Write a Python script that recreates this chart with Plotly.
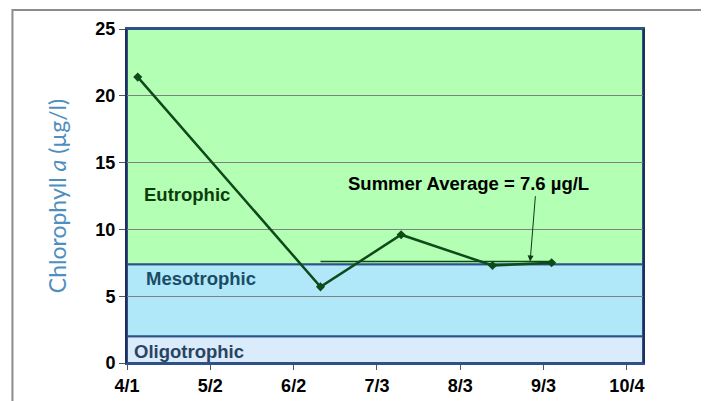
import plotly.graph_objects as go

dates = ["2009-04-05", "2009-06-12", "2009-07-12", "2009-08-15", "2009-09-06"]
chl = [21.4, 5.7, 9.6, 7.3, 7.5]
avg_dates = ["2009-06-12", "2009-09-06"]
avg_val = [7.6, 7.6]
tick_dates = ["2009-04-01", "2009-05-02", "2009-06-02", "2009-07-03", "2009-08-03", "2009-09-03", "2009-10-04"]
tick_text = ["4/1", "5/2", "6/2", "7/3", "8/3", "9/3", "10/4"]
y_ticks = [0, 5, 10, 15, 20, 25]
bands = [(0, 2, "#DAEBFC"), (2, 7.4, "#B0E8FA"), (7.4, 25, "#B3FFB3")]
x_range = ["2009-04-01", "2009-10-10"]

FONT = "Liberation Sans, Arial"

fig = go.Figure()
for y0, y1, c in bands:
    fig.add_shape(type="rect", xref="x", yref="y", x0=x_range[0], x1=x_range[1], y0=y0, y1=y1,
                  fillcolor=c, line=dict(color="#2F5189", width=2), layer="below")

fig.add_trace(go.Scatter(x=avg_dates, y=avg_val, mode="lines",
                         line=dict(color="#0F4A1A", width=1.5), hoverinfo="skip"))
fig.add_trace(go.Scatter(x=dates, y=chl, mode="lines+markers",
                         line=dict(color="#0F4A1A", width=2.5),
                         marker=dict(symbol="diamond", size=7, color="#0F4A1A")))

fig.add_annotation(x="2009-04-01", y=12.6, text="<b>Eutrophic</b>", showarrow=False,
                   xanchor="left", font=dict(family=FONT, size=18.5, color="#0B3D0B"), xshift=15)
fig.add_annotation(x="2009-04-01", y=6.3, text="<b>Mesotrophic</b>", showarrow=False,
                   xanchor="left", font=dict(family=FONT, size=18.5, color="#1B4C66"), xshift=17)
fig.add_annotation(x="2009-04-01", y=0.85, text="<b>Oligotrophic</b>", showarrow=False,
                   xanchor="left", font=dict(family=FONT, size=18.5, color="#2A4460"), xshift=5)
fig.add_annotation(x="2009-08-06", y=13.4, text="<b>Summer Average = 7.6 µg/L</b>", showarrow=False,
                   font=dict(family=FONT, size=18.5, color="black"))
fig.add_annotation(x="2009-08-29", y=7.6, ax="2009-08-31", ay=12.6, axref="x", ayref="y",
                   text="", showarrow=True, arrowhead=2, arrowsize=1.2, arrowwidth=1, arrowcolor="#0F3A1A")

fig.add_shape(type="rect", xref="paper", yref="paper", x0=-0.222, x1=1.123, y0=-0.2, y1=1.057,
              line=dict(color="#8C8C8C", width=2), fillcolor="rgba(0,0,0,0)", layer="below")

fig.update_layout(
    width=709, height=401,
    margin=dict(l=119, r=74, t=21, b=46),
    paper_bgcolor="white", plot_bgcolor="white",
    showlegend=False,
    xaxis=dict(type="date", range=x_range, tickvals=tick_dates,
               ticktext=["<b>%s</b>" % t for t in tick_text], automargin=False,
               showgrid=False, ticks="outside", ticklen=5, tickcolor="#555",
               showline=True, linecolor="#2F5189", linewidth=2, mirror=True,
               tickfont=dict(family=FONT, size=18, color="black"), zeroline=False),
    yaxis=dict(range=[0, 25], tickvals=y_ticks, ticktext=["<b>%d</b>" % v for v in y_ticks],
               showgrid=True, gridcolor="#808080", gridwidth=1, automargin=False,
               ticks="outside", ticklen=6, tickcolor="#555",
               showline=True, linecolor="#1F2F5A", linewidth=2, mirror=True, zeroline=False,
               tickfont=dict(family=FONT, size=18, color="black"),
               title=dict(text="Chlorophyll <i>a</i> (µg/l)", standoff=22,
                          font=dict(family="Lato, Noto Sans", size=23, color="#4F8FBF"))),
)
fig.write_html("out.html")
